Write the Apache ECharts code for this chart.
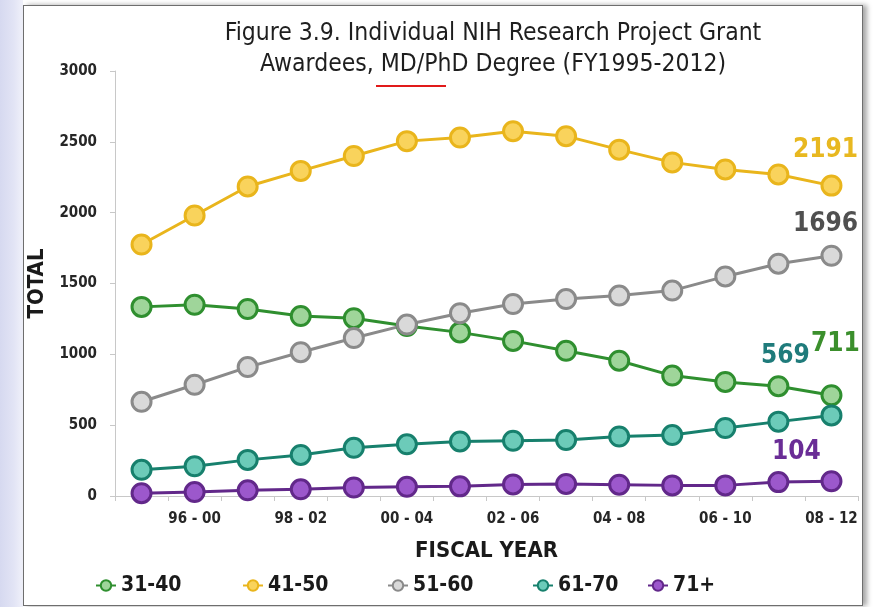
<!DOCTYPE html>
<html>
<head>
<meta charset="utf-8">
<script src="https://cdn.jsdelivr.net/npm/echarts@6/dist/echarts.min.js"></script>
<style>
  html, body { margin:0; padding:0; width:877px; height:607px; overflow:hidden; background:#ffffff; }
  #strip { position:absolute; left:0; top:0; width:23px; height:607px;
           background:linear-gradient(90deg,#d6d9f0 0%,#e2e4f5 60%,#f0f1fa 100%); }
  #frame { position:absolute; left:23px; top:5px; width:838px; height:599px;
           border:1.5px solid #6e6e6e; background:#fff;
           box-shadow:4px 0 5px rgba(0,0,0,0.35); }
  #chart { position:absolute; left:0; top:0; width:877px; height:607px; }
</style>
</head>
<body>
<div id="strip"></div>
<div id="frame"></div>
<div id="chart"></div>
<script>
// ---- data ----
var categories = ['95 - 99','96 - 00','97 - 01','98 - 02','99 - 03','00 - 04','01 - 05',
                  '02 - 06','03 - 07','04 - 08','05 - 09','06 - 10','07 - 11','08 - 12'];
var seriesNames = ['31-40','41-50','51-60','61-70','71+'];
var age31_40 = [1335, 1350, 1320, 1270, 1255, 1200, 1155, 1095, 1025, 955, 850, 805, 775, 711];
var age41_50 = [1775, 1980, 2185, 2295, 2400, 2505, 2530, 2575, 2540, 2445, 2355, 2305, 2270, 2191];
var age51_60 = [665, 785, 910, 1015, 1115, 1210, 1290, 1355, 1390, 1415, 1450, 1550, 1640, 1696];
var age61_70 = [185, 210, 255, 290, 340, 365, 385, 390, 395, 420, 430, 480, 525, 569];
var age71p   = [20, 28, 40, 47, 60, 65, 68, 82, 85, 80, 75, 75, 98, 104];
var yTicks = { min: 0, max: 3000, interval: 500 };

var FONT = '"Liberation Sans Narrow","Arial Narrow","DejaVu Sans Condensed","Liberation Sans",sans-serif';

var styles = [
  { line:'#2f8f2f', fill:'#9fd59a', label:'#3b8f2c', off:[4,-51] },
  { line:'#e9b51c', fill:'#f9d35c', label:'#e8b820', off:[-6,-35] },
  { line:'#8a8a8a', fill:'#d9d9d9', label:'#505050', off:[-6,-31] },
  { line:'#17806d', fill:'#6ccbb9', label:'#1f7b7b', off:[-46,-59] },
  { line:'#62288a', fill:'#9c58cc', label:'#6a2d96', off:[-35,-29] }
];
var legendLeft = [90, 237, 382, 527, 642];
var allData = [age31_40, age41_50, age51_60, age61_70, age71p];

function buildSeries(i) {
  var s = styles[i];
  var d = allData[i].map(function (v, k) {
    if (k === allData[i].length - 1) {
      return { value: v, label: { show: true, position: 'inside', offset: s.off,
        formatter: '{c}', color: s.label, fontFamily: FONT, fontSize: 26, fontWeight: 'bold' } };
    }
    return v;
  });
  return {
    name: seriesNames[i], type: 'line', data: d,
    symbol: 'circle', symbolSize: 19,
    lineStyle: { color: s.line, width: 3 },
    itemStyle: { color: s.fill, borderColor: s.line, borderWidth: 3 },
    emphasis: { disabled: true },
    animation: false
  };
}

var chart = echarts.init(document.getElementById('chart'), null, { renderer: 'canvas' });
chart.setOption({
  backgroundColor: 'transparent',
  title: {
    text: 'Figure 3.9. Individual NIH Research Project Grant\nAwardees, MD/PhD Degree (FY1995-2012)',
    left: 488, top: 13, textAlign: 'center',
    textStyle: { fontFamily: FONT, fontSize: 24.5, fontWeight: 'normal', color: '#1e1e1e', lineHeight: 31 }
  },
  graphic: [
    { type: 'rect', shape: { x: 376, y: 85, width: 70, height: 2 }, style: { fill: '#e11a1a' } }
  ],
  grid: { left: 115, right: 19, top: 71, bottom: 111, containLabel: false },
  legend: seriesNames.map(function (n, i) {
    return {
      data: [n], left: legendLeft[i], top: 570, itemWidth: 20, itemHeight: 13,
      textStyle: { fontFamily: FONT, fontSize: 21, fontWeight: 'bold', color: '#1a1a1a' }
    };
  }),
  xAxis: {
    type: 'category', data: categories, boundaryGap: true,
    name: 'FISCAL YEAR', nameLocation: 'middle', nameGap: 44,
    nameTextStyle: { fontFamily: FONT, fontSize: 22, fontWeight: 'bold', color: '#1a1a1a' },
    axisLine: { lineStyle: { color: '#c8c8c8', width: 1 } },
    axisTick: { show: true, interval: 0, length: 5, lineStyle: { color: '#c8c8c8' } },
    axisLabel: {
      interval: function (idx) { return idx % 2 === 1; },
      margin: 16, fontFamily: FONT, fontSize: 15, fontWeight: 'bold', color: '#262626'
    },
    splitLine: { show: false }
  },
  yAxis: {
    type: 'value', min: yTicks.min, max: yTicks.max, interval: yTicks.interval,
    name: 'TOTAL', nameLocation: 'middle', nameGap: 62, nameRotate: 90,
    nameTextStyle: { fontFamily: FONT, fontSize: 22, fontWeight: 'bold', color: '#1a1a1a' },
    axisLine: { show: true, lineStyle: { color: '#c8c8c8', width: 1 } },
    axisTick: { show: true, length: 5, lineStyle: { color: '#c8c8c8' } },
    axisLabel: { margin: 18, fontFamily: FONT, fontSize: 15, fontWeight: 'bold', color: '#262626',
                 formatter: function (v) { return String(v); } },
    splitLine: { show: false }
  },
  series: [0,1,2,3,4].map(buildSeries)
});
</script>
</body>
</html>
